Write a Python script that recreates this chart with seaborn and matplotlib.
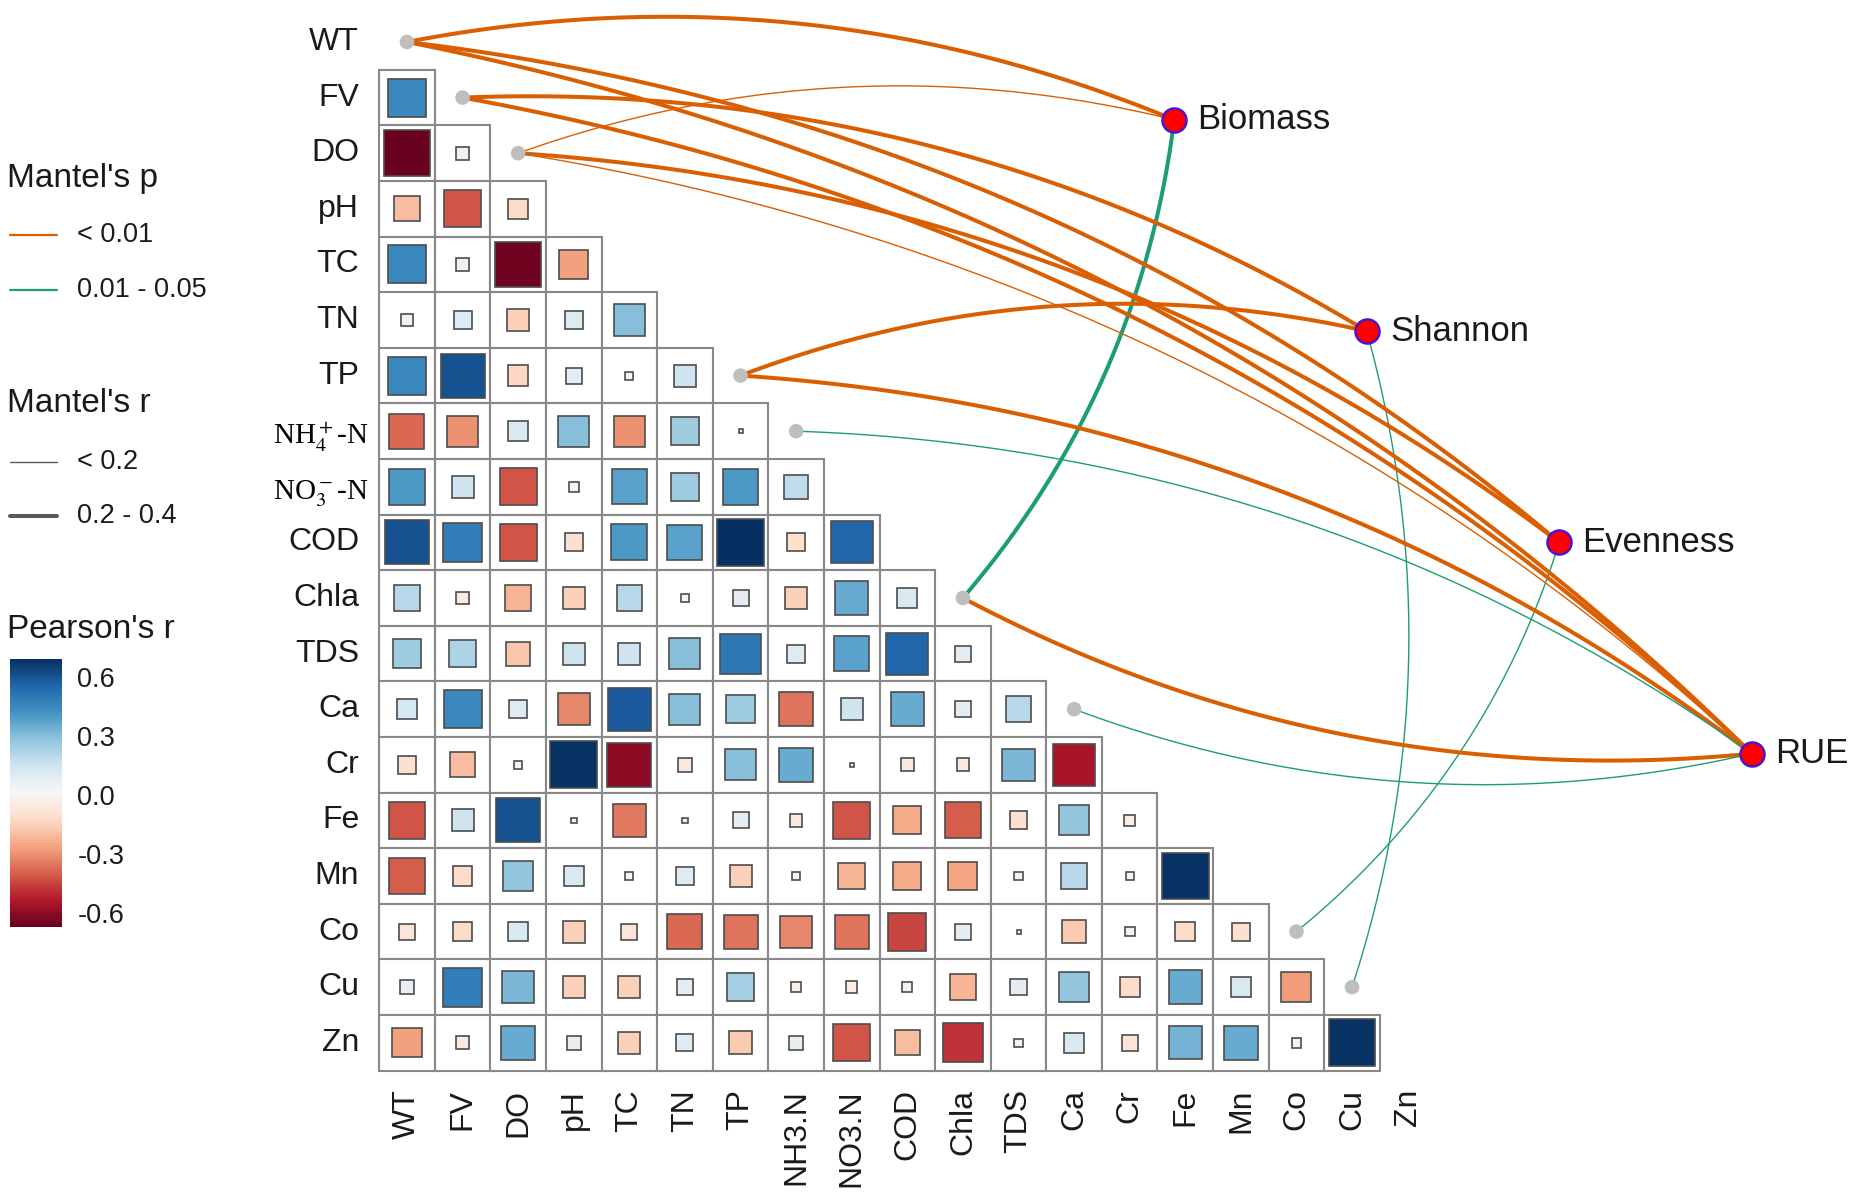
import numpy as np
import matplotlib
matplotlib.use("Agg")
import matplotlib.pyplot as plt
from matplotlib.patches import Rectangle
from matplotlib.colors import Normalize
from matplotlib.cm import ScalarMappable
import seaborn as sns

# environmental variables (rows / columns of the triangle)
env_vars = ['WT', 'FV', 'DO', 'pH', 'TC', 'TN', 'TP', 'NH4', 'NO3', 'COD',
            'Chla', 'TDS', 'Ca', 'Cr', 'Fe', 'Mn', 'Co', 'Cu', 'Zn']
row_labels = ['WT', 'FV', 'DO', 'pH', 'TC', 'TN', 'TP', 'NH$_4^+$-N', 'NO$_3^-$-N', 'COD',
              'Chla', 'TDS', 'Ca', 'Cr', 'Fe', 'Mn', 'Co', 'Cu', 'Zn']
col_labels = ['WT', 'FV', 'DO', 'pH', 'TC', 'TN', 'TP', 'NH3.N', 'NO3.N', 'COD',
              'Chla', 'TDS', 'Ca', 'Cr', 'Fe', 'Mn', 'Co', 'Cu', 'Zn']

# Pearson's r, lower triangle, row by row
pearson_r = [
    [],
    [0.45],
    [-0.66, 0.05],
    [-0.20, -0.42, -0.12],
    [0.45, 0.05, -0.65, -0.27],
    [0.04, 0.10, -0.15, 0.10, 0.30],
    [0.45, 0.60, -0.13, 0.08, 0.02, 0.15],
    [-0.38, -0.30, 0.12, 0.30, -0.30, 0.25, 0.005],
    [0.40, 0.15, -0.42, 0.03, 0.38, 0.25, 0.40, 0.18],
    [0.60, 0.48, -0.42, -0.10, 0.40, 0.38, 0.69, -0.10, 0.55],
    [0.20, -0.05, -0.22, -0.15, 0.20, 0.02, 0.08, -0.15, 0.35, 0.12],
    [0.25, 0.22, -0.18, 0.15, 0.15, 0.30, 0.50, 0.10, 0.38, 0.55, 0.08],
    [0.13, 0.45, 0.10, -0.32, 0.58, 0.30, 0.25, -0.36, 0.15, 0.35, 0.08, 0.20],
    [-0.10, -0.20, -0.02, 0.68, -0.60, -0.06, 0.30, 0.35, 0.005, -0.05, -0.05, 0.32, -0.55],
    [-0.42, 0.15, 0.60, 0.01, -0.35, 0.01, 0.08, -0.05, -0.42, -0.24, -0.40, -0.10, 0.28, -0.04],
    [-0.40, -0.12, 0.28, 0.12, 0.02, 0.10, -0.15, -0.02, -0.22, -0.24, -0.26, -0.02, 0.20, -0.02, 0.68],
    [-0.08, -0.12, 0.12, -0.15, -0.08, -0.38, -0.36, -0.32, -0.36, -0.45, 0.08, 0.005, -0.17, -0.03,
     -0.12, -0.10],
    [0.06, 0.48, 0.32, -0.15, -0.15, 0.08, 0.24, -0.03, -0.04, 0.03, -0.22, 0.08, 0.28, -0.12, 0.35,
     0.12, -0.28],
    [-0.27, -0.05, 0.35, 0.06, -0.15, 0.09, -0.17, 0.06, -0.42, -0.20, -0.48, -0.02, 0.12, -0.08, 0.33,
     0.35, -0.03, 0.68],
]

# Mantel test results: response, env variable, p class, r class
spec_names = ['Biomass', 'Shannon', 'Evenness', 'RUE']
link_spec = ['Biomass', 'Biomass', 'Biomass', 'Shannon', 'Shannon', 'Shannon',
             'Evenness', 'Evenness', 'Evenness', 'RUE', 'RUE', 'RUE', 'RUE',
             'RUE', 'RUE', 'RUE']
link_env = ['WT', 'DO', 'Chla', 'FV', 'TP', 'Cu',
            'WT', 'DO', 'Co', 'WT', 'FV', 'DO', 'TP',
            'NH4', 'Chla', 'Ca']
link_p = ['< 0.01', '< 0.01', '0.01 - 0.05', '< 0.01', '< 0.01', '0.01 - 0.05',
          '< 0.01', '< 0.01', '0.01 - 0.05', '< 0.01', '< 0.01', '< 0.01', '< 0.01',
          '0.01 - 0.05', '< 0.01', '0.01 - 0.05']
link_r = ['0.2 - 0.4', '< 0.2', '0.2 - 0.4', '0.2 - 0.4', '0.2 - 0.4', '< 0.2',
          '0.2 - 0.4', '0.2 - 0.4', '< 0.2', '0.2 - 0.4', '0.2 - 0.4', '< 0.2', '0.2 - 0.4',
          '< 0.2', '0.2 - 0.4', '< 0.2']

p_levels = ['< 0.01', '0.01 - 0.05']
r_levels = ['< 0.2', '0.2 - 0.4']
r_breaks = [-0.6, -0.3, 0.0, 0.3, 0.6]

sns.set_theme(style="white")
plt.rcParams['font.family'] = ['Liberation Sans', 'DejaVu Sans']
plt.rcParams['mathtext.fontset'] = 'stix'

dark2 = sns.color_palette("Dark2")
p_colors = {'< 0.01': dark2[1], '0.01 - 0.05': dark2[0]}
r_widths = {'< 0.2': 1.0, '0.2 - 0.4': 2.9}
cmap = sns.color_palette("RdBu", as_cmap=True)
norm = Normalize(vmin=-0.67, vmax=0.69)

fig = plt.figure(figsize=(18.63, 11.99), dpi=100)
ax = fig.add_axes([0, 0, 1, 1])

# correlation triangle
for i, row in enumerate(pearson_r):
    for j, r in enumerate(row):
        ax.add_patch(Rectangle((j - 0.5, i - 0.5), 1, 1, fc='white', ec='#888888',
                               lw=1.5, zorder=1))
        side = np.sqrt(abs(r)) * 1.02
        ax.add_patch(Rectangle((j - side / 2, i - side / 2), side, side,
                               fc=cmap(norm(r)), ec='#4d4d4d', lw=1.2, zorder=2))

for i, lab in enumerate(row_labels):
    if '$' in lab:
        ax.text(-0.68, i + 0.12, lab, ha='right', va='center', fontsize=21,
                family=['Liberation Serif', 'DejaVu Serif'], color='black')
    else:
        ax.text(-0.86, i, lab, ha='right', va='center', fontsize=23, color='#1a1a1a')
for j, lab in enumerate(col_labels):
    ax.text(j, 18.83, lab, rotation=90, ha='center', va='top', fontsize=23, color='#1a1a1a')

# response nodes laid out along a diagonal line
spec_x = [13.8 + 3.463 * k for k in range(len(spec_names))]
spec_y = [1.40 + 3.80 * k for k in range(len(spec_names))]
spec_pos = {n: (x, y) for n, x, y in zip(spec_names, spec_x, spec_y)}

# curved links (quadratic bezier, bend side depends on env position)
t = np.linspace(0, 1, 120)
for s, e, p, r in zip(link_spec, link_env, link_p, link_r):
    k = env_vars.index(e)
    x0, y0 = k, -k
    x1, y1 = spec_pos[s][0], -spec_pos[s][1]
    dx, dy = x1 - x0, y1 - y0
    sign = 1 if k < 9 else -1
    cx = (x0 + x1) / 2 + sign * 0.15 * (-dy)
    cy = (y0 + y1) / 2 + sign * 0.15 * dx
    bx = (1 - t) ** 2 * x0 + 2 * (1 - t) * t * cx + t ** 2 * x1
    by = (1 - t) ** 2 * y0 + 2 * (1 - t) * t * cy + t ** 2 * y1
    ax.plot(bx, -by, color=p_colors[p], lw=r_widths[r], zorder=3,
            solid_capstyle='round')

linked = [v for v in env_vars if v in link_env]
sns.scatterplot(x=[env_vars.index(v) for v in linked], y=[env_vars.index(v) for v in linked],
                color='#bebebe', s=110, edgecolor='none', ax=ax, zorder=5, legend=False)
sns.scatterplot(x=spec_x, y=spec_y, color='#ff0000', s=300, edgecolor='#4b16c8',
                linewidth=1.8, ax=ax, zorder=6, legend=False)
for n in spec_names:
    ax.text(spec_pos[n][0] + 0.42, spec_pos[n][1], n, ha='left', va='center',
            fontsize=25, color='#1a1a1a')

ax.set_xlim(-7.32, 26.19)
ax.set_ylim(20.81, -0.755)
ax.axis('off')

# legends (pixel layout)
lax = fig.add_axes([0, 0, 1, 1], zorder=-1)
lax.set_xlim(0, 1863)
lax.set_ylim(1199, 0)
lax.axis('off')
lax.text(7, 178, "Mantel's p", fontsize=24, va='center', ha='left', color='#1a1a1a')
for lvl, yy in zip(p_levels, [235, 290]):
    lax.plot([10, 57], [yy, yy], color=p_colors[lvl], lw=1.6)
    lax.text(77, yy, lvl, fontsize=19.5, va='center', ha='left', color='#1a1a1a')
lax.text(7, 404, "Mantel's r", fontsize=24, va='center', ha='left', color='#1a1a1a')
for lvl, yy in zip(r_levels, [462, 516]):
    lax.plot([10, 57], [yy, yy], color='#5a5a5a', lw=r_widths[lvl])
    lax.text(77, yy, lvl, fontsize=19.5, va='center', ha='left', color='#1a1a1a')
lax.text(7, 630, "Pearson's r", fontsize=24, va='center', ha='left', color='#1a1a1a')

cax = fig.add_axes([9.5 / 1863, 1 - 927 / 1199, 52.5 / 1863, 268 / 1199])
cb = fig.colorbar(ScalarMappable(norm=norm, cmap=cmap), cax=cax, ticks=r_breaks)
cb.outline.set_visible(False)
cb.ax.set_yticklabels([f'{v:.1f}' for v in r_breaks])
cb.ax.tick_params(direction='in', length=9, width=1.6, color='white', left=True, right=True,
                  labelsize=19.5, labelcolor='#1a1a1a', pad=11)

fig.savefig('out.png', dpi=100, facecolor='white')
